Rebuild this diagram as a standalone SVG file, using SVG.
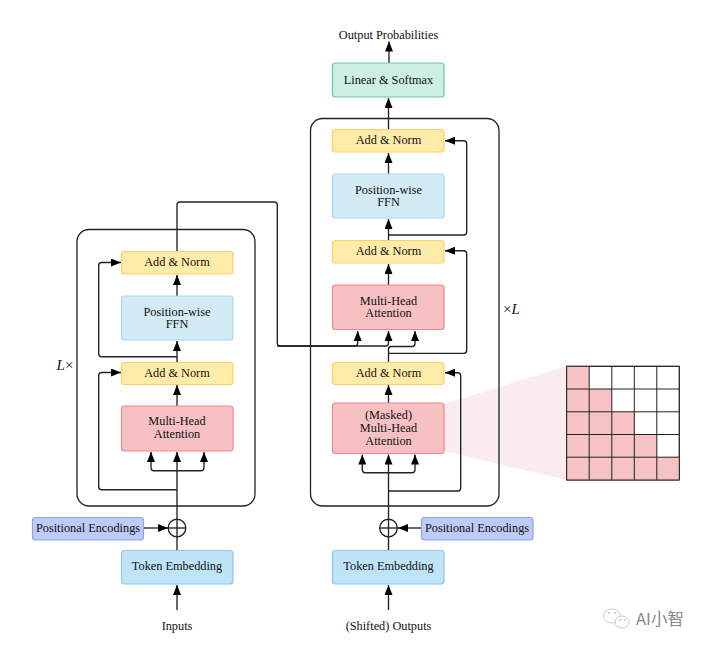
<svg xmlns="http://www.w3.org/2000/svg" width="707" height="649" viewBox="0 0 707 649">
<style>
text{font-family:"Liberation Serif","Times New Roman",serif;font-size:12.3px;fill:#111;text-anchor:middle}
.n{stroke-width:1.2}
.frame{fill:none;stroke:#222;stroke-width:1.3}
.add{fill:#FFECA9;stroke:#FFCF66}
.ffn{fill:#D3EBF4;stroke:#A8D8F5}
.mha{fill:#F7C1C3;stroke:#F0878C}
.lin{fill:#CDEEE3;stroke:#6CC4AC}
.tok{fill:#BFE3F7;stroke:#90C5EC}
.pos{fill:#BDCBF7;stroke:#8CA6EC}
.c{fill:none;stroke:#222;stroke-width:1.35}
.a{marker-end:url(#arr)}
.g{stroke:#333;stroke-width:1;fill:#fff}
.p{fill:#F6C2C3}
</style>
<defs>
<marker id="arr" viewBox="0 0 10 8" refX="10" refY="4" markerUnits="userSpaceOnUse" markerWidth="10" markerHeight="8" orient="auto"><path d="M0 0L10 4L0 8Z" fill="#000"/></marker>
</defs>
<polygon points="444,404 566.7,366.3 566.7,480 444,451" fill="#FAECEC"/>
<g id="frames">
<rect class="frame" x="77" y="229.5" width="178" height="276.5" rx="12"/>
<rect class="frame" x="310.5" y="118.5" width="188.500" height="387.500" rx="12"/>
</g>
<g id="connectors">
<path class="c a" d="M177 610V585"/>
<path class="c a" d="M177 550V452"/>
<path class="c a" d="M177 470.700H154Q151 470.700 151 467.700V452"/>
<path class="c a" d="M177 470.700H201Q204 470.700 204 467.700V452"/>
<path class="c a" d="M177 489.700H101.700Q98.700 489.700 98.700 486.700V375.500Q98.700 372.500 101.700 372.500H121"/>
<path class="c a" d="M177 406V385"/>
<path class="c a" d="M177 362V341"/>
<path class="c a" d="M177 356.700H101.700Q98.700 356.700 98.700 353.700V265.500Q98.700 262.500 101.700 262.500H121"/>
<path class="c a" d="M177 296V275"/>
<path class="c a" d="M177 251V205Q177 202 180 202H274.300Q277.300 202 277.300 205V343Q277.300 346 280.300 346H354.700Q357.700 346 357.700 343V331"/>
<path class="c a" d="M277.300 346H385.500Q388.500 346 388.500 343V331"/>
<path class="c a" d="M388.500 362V349Q388.500 346.500 391.500 346.500H412Q415 346.500 415 343.500V331"/>
<path class="c a" d="M388.500 353.300H463.700Q466.700 353.300 466.700 350.300V253.700Q466.700 250.700 463.700 250.700H445"/>
<path class="c a" d="M388.500 610V585"/>
<path class="c a" d="M388.500 550V454.500"/>
<path class="c a" d="M388.500 472.700H365.300Q362.300 472.700 362.300 469.700V454.500"/>
<path class="c a" d="M388.500 472.700H412Q415 472.700 415 469.700V454.500"/>
<path class="c a" d="M388.500 491H457.700Q460.700 491 460.700 488V375.700Q460.700 372.700 457.700 372.700H445"/>
<path class="c a" d="M388.500 403V385"/>
<path class="c a" d="M388.500 285V264"/>
<path class="c a" d="M388.500 240V219"/>
<path class="c a" d="M388.500 235H463.700Q466.700 235 466.700 232V143.700Q466.700 140.700 463.700 140.700H445"/>
<path class="c a" d="M388.500 174V153"/>
<path class="c a" d="M388.500 129V98"/>
<path class="c a" d="M389 63V41.500"/>
<path class="c a" d="M144 528H168"/>
<path class="c a" d="M421 528H398"/>
</g>
<g id="enc-add-norm-2"><rect class="n add" x="121.500" y="251.500" width="111.500" height="22.500" rx="3"/><text x="177" y="266">Add &amp; Norm</text></g>
<g id="enc-ffn"><rect class="n ffn" x="121.500" y="296" width="111.500" height="44" rx="3"/><text x="177" y="315.500">Position-wise</text><text x="177" y="328">FFN</text></g>
<g id="enc-add-norm-1"><rect class="n add" x="121.500" y="362.500" width="111.500" height="22" rx="3"/><text x="177" y="376.500">Add &amp; Norm</text></g>
<g id="enc-mha"><rect class="n mha" x="121.500" y="406" width="111.500" height="45" rx="3"/><text x="177" y="425">Multi-Head</text><text x="177" y="438">Attention</text></g>
<g id="enc-token"><rect class="n tok" x="121.500" y="550.500" width="111.500" height="33.500" rx="3"/><text x="177" y="570">Token Embedding</text></g>
<g id="enc-pos"><rect class="n pos" x="32.500" y="517.500" width="111" height="22.500" rx="3"/><text x="88" y="531.500">Positional Encodings</text></g>
<g id="enc-sum"><circle class="c" cx="177" cy="528" r="8.800"/><path class="c" d="M168.200 528H185.800"/></g>
<g id="dec-linear"><rect class="n lin" x="332.500" y="63" width="111.500" height="34" rx="3"/><text x="388.500" y="84">Linear &amp; Softmax</text></g>
<g id="dec-add-norm-3"><rect class="n add" x="332.500" y="129.500" width="111.500" height="22.500" rx="3"/><text x="388.500" y="144">Add &amp; Norm</text></g>
<g id="dec-ffn"><rect class="n ffn" x="332.500" y="174" width="111.500" height="44" rx="3"/><text x="388.500" y="193.500">Position-wise</text><text x="388.500" y="206">FFN</text></g>
<g id="dec-add-norm-2"><rect class="n add" x="332.500" y="240.500" width="111.500" height="22.500" rx="3"/><text x="388.500" y="255">Add &amp; Norm</text></g>
<g id="dec-mha"><rect class="n mha" x="332.500" y="285" width="111.500" height="44.500" rx="3"/><text x="388.500" y="304.500">Multi-Head</text><text x="388.500" y="317">Attention</text></g>
<g id="dec-add-norm-1"><rect class="n add" x="332.500" y="362.500" width="111.500" height="22" rx="3"/><text x="388.500" y="376.500">Add &amp; Norm</text></g>
<g id="dec-masked"><rect class="n mha" x="332.500" y="403" width="111.500" height="50.500" rx="3"/><text x="388.500" y="419">(Masked)</text><text x="388.500" y="432">Multi-Head</text><text x="388.500" y="444.500">Attention</text></g>
<g id="dec-token"><rect class="n tok" x="332.500" y="550.500" width="111.500" height="33.500" rx="3"/><text x="388.500" y="570">Token Embedding</text></g>
<g id="dec-pos"><rect class="n pos" x="421.500" y="517.500" width="111.500" height="22.500" rx="3"/><text x="477" y="531.500">Positional Encodings</text></g>
<g id="dec-sum"><circle class="c" cx="388.500" cy="528" r="8.800"/><path class="c" d="M379.700 528H397.300"/></g>
<g id="labels">
<text x="388.500" y="38.500">Output Probabilities</text>
<text x="177" y="630">Inputs</text>
<text x="388.500" y="630">(Shifted) Outputs</text>
<text x="65" y="370" style="font-size:15px"><tspan font-style="italic">L</tspan>×</text>
<text x="511.500" y="314" style="font-size:15px">×<tspan font-style="italic">L</tspan></text>
</g>
<g id="mask-grid">
<rect class="g" x="566.700" y="366.300" width="112.600" height="113.700"/>
<path class="p" d="M566.700 366.300H589.200V389H611.800V411.800H634.300V434.500H656.800V457.200H679.300V480H566.700Z"/>
<path d="M566.700 366.300H679.300V480H566.700ZM589.200 366.300V480M611.800 366.300V480M634.300 366.300V480M656.800 366.300V480M566.700 389H679.300M566.700 411.800H679.300M566.700 434.500H679.300M566.700 457.200H679.300" fill="none" stroke="#222" stroke-width="1"/>
</g>
<g id="watermark">
<ellipse cx="612" cy="616" rx="8.500" ry="7" fill="none" stroke="#bbb" stroke-width=".8"/>
<ellipse cx="622" cy="622" rx="7" ry="6" fill="#fff" stroke="#bbb" stroke-width=".8"/>
<circle cx="609" cy="613" r=".8" fill="#999"/><circle cx="615" cy="613" r=".8" fill="#999"/><circle cx="620" cy="620" r=".8" fill="#999"/><circle cx="625" cy="620" r=".8" fill="#999"/>
<text x="660" y="625" style="font-family:'Noto Sans CJK SC','Noto Sans',sans-serif;font-size:16.500px;fill:#888">AI小智</text>
</g>
</svg>
